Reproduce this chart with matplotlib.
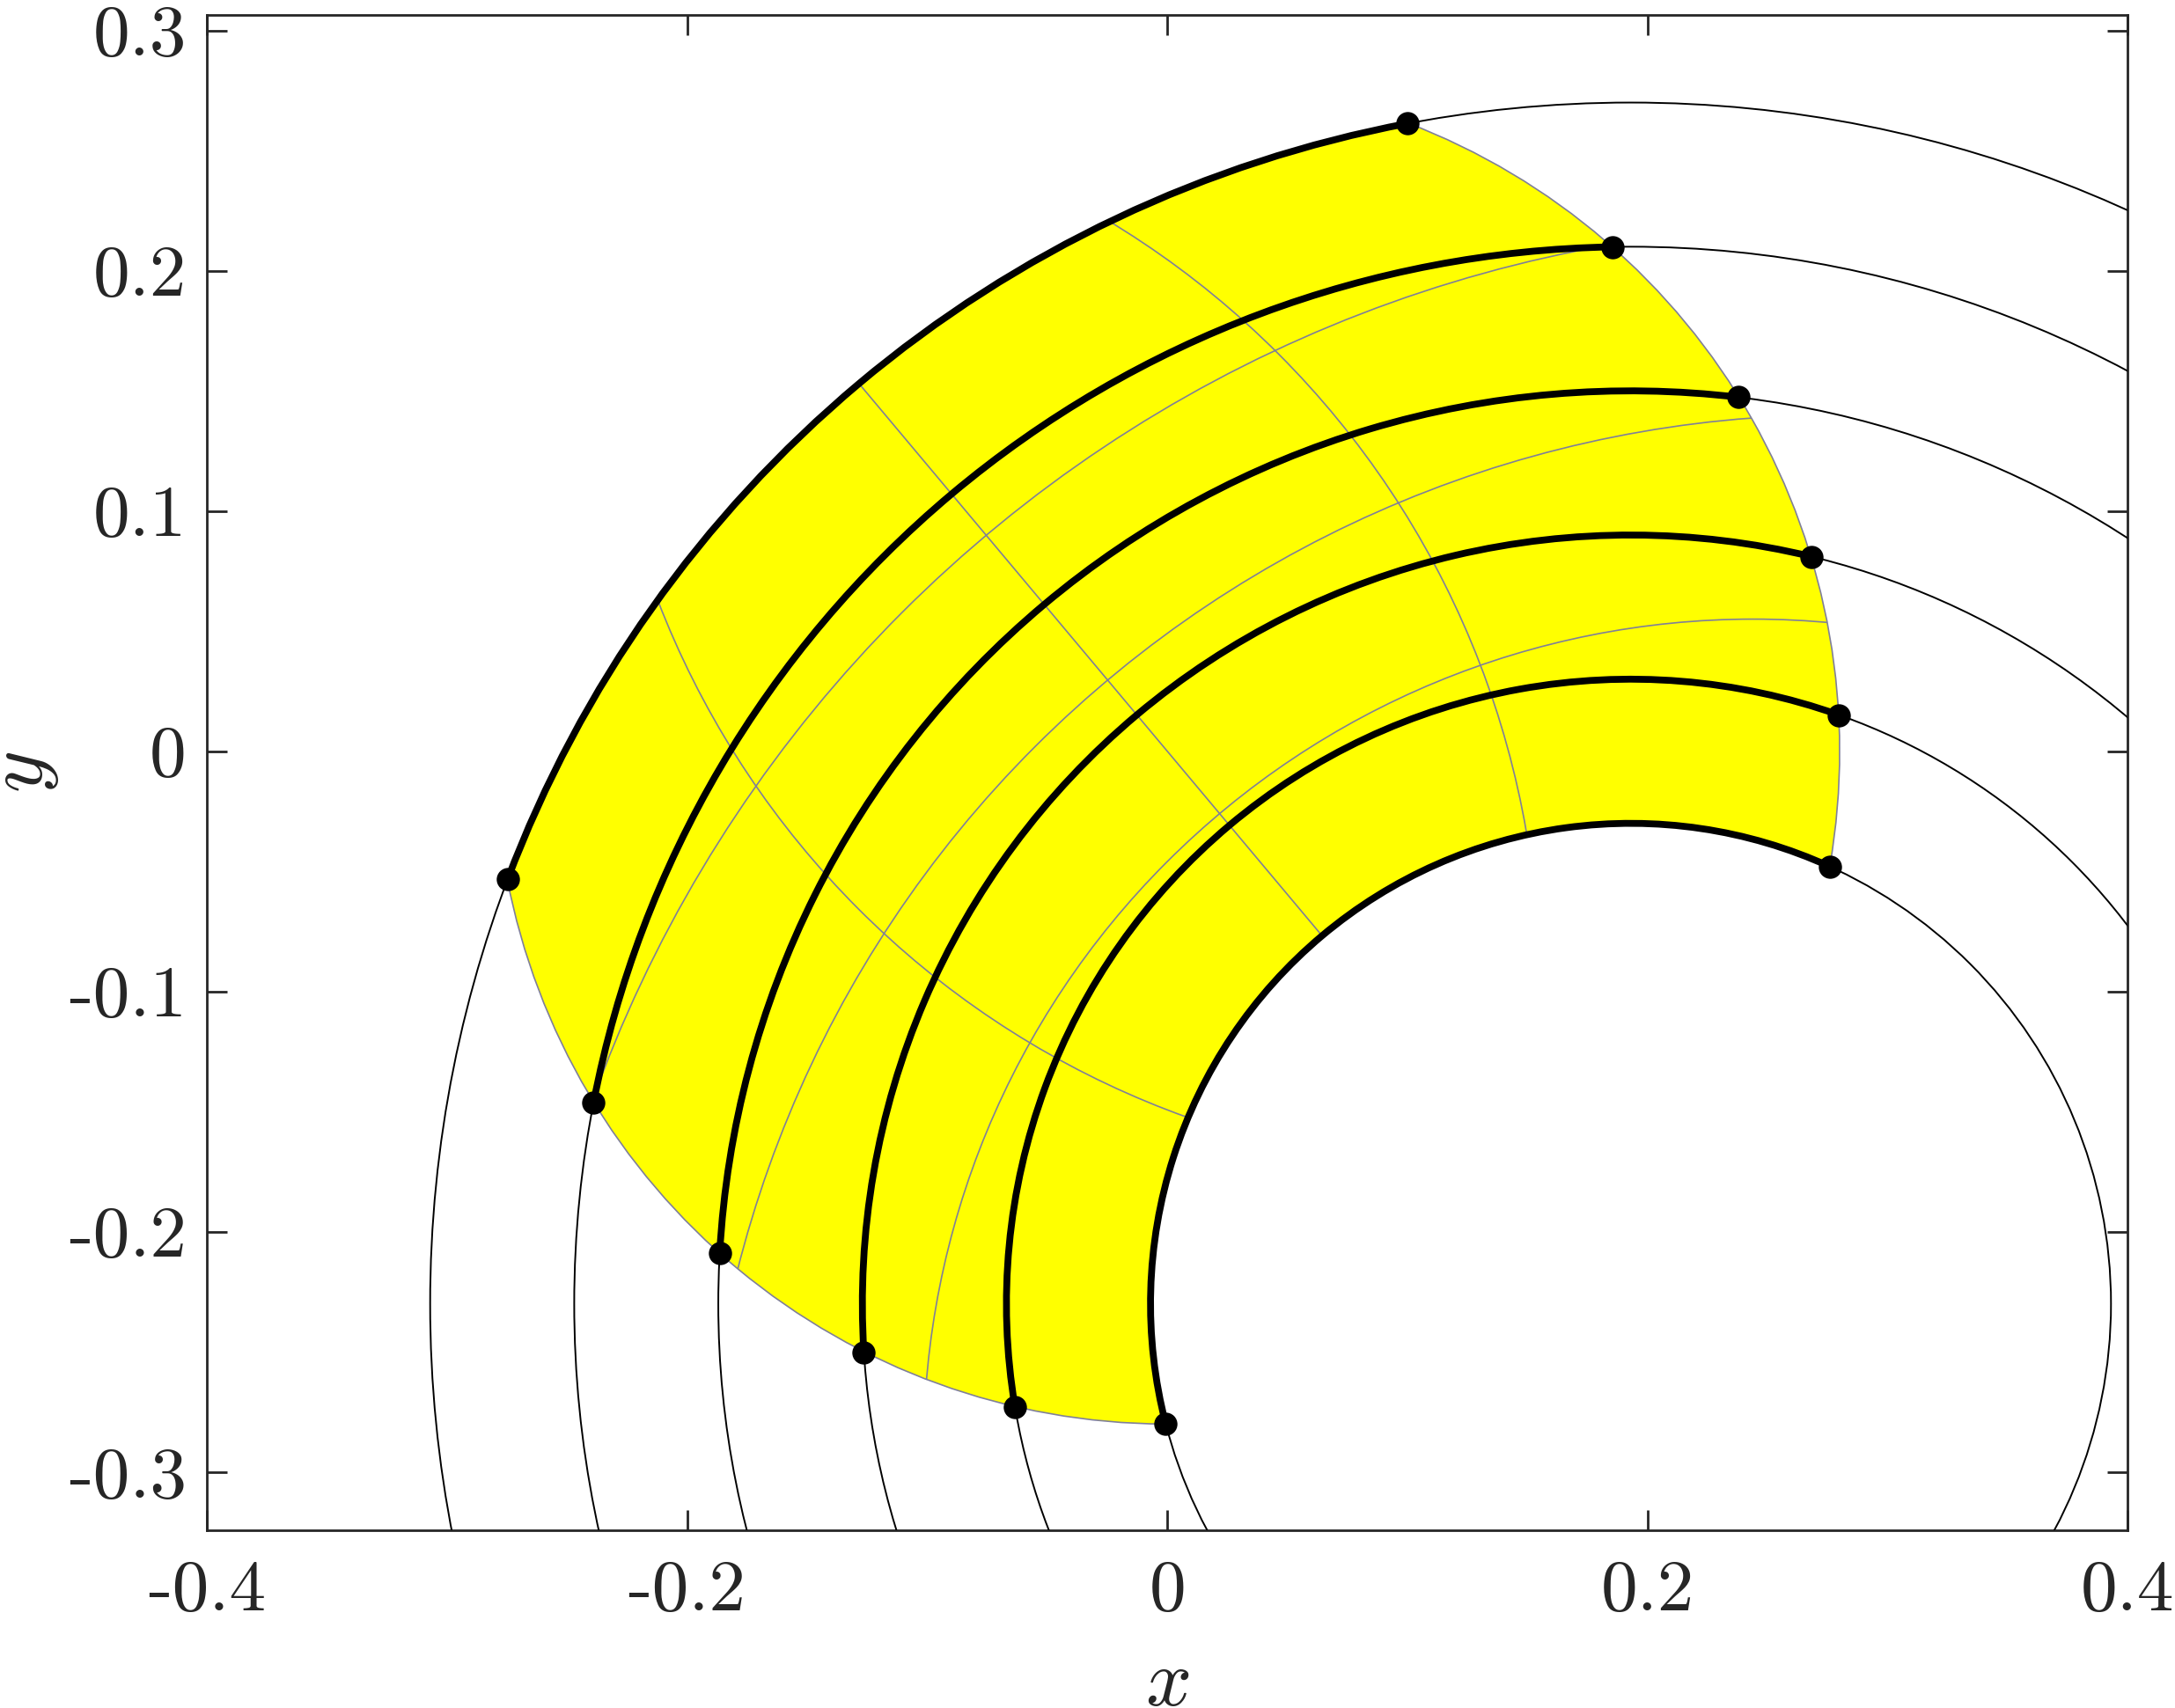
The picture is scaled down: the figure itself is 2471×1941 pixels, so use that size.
import numpy as np
import matplotlib
matplotlib.use('Agg')
import matplotlib.pyplot as plt
from matplotlib.patches import Arc, Circle, PathPatch
from matplotlib.path import Path

# streamline circles (centre, radii) and the disc that cuts out the yellow patch
centre = (0.193, -0.230)
radii = [0.20, 0.26, 0.32, 0.38, 0.44, 0.50]
theta_right = [65.5, 70.5, 76.4, 83.2, 91.0, 100.7]      # deg about centre
theta_left = [194.5, 189.5, 183.6, 176.8, 169.0, 159.3]

disc_centre = (0.0, 0.0)
disc_radius = 0.28
disc_theta_left = [190.9, 269.8]     # deg about disc centre
disc_theta_right = [-9.8, 69.1]

# thin grey grid inside the patch: circle pieces and one straight ray
grid_cx = [0.279, 0.2785, 0.244, 0.133, -0.216]
grid_cy = [-0.332, -0.332, -0.2905, 0.196, -0.097]
grid_r = [0.551, 0.472, 0.3455, 0.370, 0.371]
grid_ray_theta = [130.0]

xticks = [-0.4, -0.2, 0, 0.2, 0.4]
xticklabels = ['-0.4', '-0.2', '0', '0.2', '0.4']
yticks = [-0.3, -0.2, -0.1, 0, 0.1, 0.2, 0.3]
yticklabels = ['-0.3', '-0.2', '-0.1', '0', '0.1', '0.2', '0.3']

plt.rcParams['font.family'] = 'serif'
plt.rcParams['font.serif'] = ['cmr10']
plt.rcParams['mathtext.fontset'] = 'cm'
plt.rcParams['axes.unicode_minus'] = False

grey = (0.5, 0.5, 0.6)
dark = '#262626'


def arc_piece(c, r, t1, t2, reverse=False):
    p = Path.arc(t1, t2)
    v = p.vertices * r + np.array(c)
    codes = p.codes.copy()
    if reverse:
        v = v[::-1]
    return v, codes


def region_path():
    pieces = [
        arc_piece(centre, radii[-1], theta_right[-1], theta_left[-1]),
        arc_piece(disc_centre, disc_radius, disc_theta_left[0], disc_theta_left[1]),
        arc_piece(centre, radii[0], theta_right[0], theta_left[0], reverse=True),
        arc_piece(disc_centre, disc_radius, disc_theta_right[0], disc_theta_right[1]),
    ]
    verts, codes = [], []
    for i, (v, c) in enumerate(pieces):
        if i > 0:
            c[0] = Path.LINETO
        verts.append(v)
        codes.append(c)
    verts.append(verts[0][:1])
    codes.append(np.array([Path.CLOSEPOLY]))
    return Path(np.concatenate(verts), np.concatenate(codes))


fig = plt.figure(figsize=(12.355, 9.705), dpi=200)
ax = fig.add_axes([0.0951, 0.1041, 0.8832, 0.8872])

patch = PathPatch(region_path(), facecolor=(1, 1, 0), edgecolor=grey,
                  lw=0.6, zorder=1)
ax.add_patch(patch)

for cx, cy, r in zip(grid_cx, grid_cy, grid_r):
    g = Circle((cx, cy), r, fill=False, edgecolor=grey, lw=0.6, zorder=2)
    ax.add_patch(g)
    g.set_clip_path(patch)
for t in grid_ray_theta:
    t = np.deg2rad(t)
    ln, = ax.plot([centre[0], centre[0] + 0.6 * np.cos(t)],
                  [centre[1], centre[1] + 0.6 * np.sin(t)],
                  color=grey, lw=0.6, zorder=2)
    ln.set_clip_path(patch)

for r in radii:
    ax.add_patch(Circle(centre, r, fill=False, edgecolor='k', lw=0.7, zorder=3))

for r, t1, t2 in zip(radii, theta_right, theta_left):
    ax.add_patch(Arc(centre, 2 * r, 2 * r, theta1=t1, theta2=t2,
                     color='k', lw=2.8, zorder=4))

r = np.array(radii)
for th in (theta_left, theta_right):
    th = np.deg2rad(th)
    ax.plot(centre[0] + r * np.cos(th), centre[1] + r * np.sin(th), 'o',
            color='k', ms=8.5, zorder=5)

ax.set_xlim(-0.4, 0.4)
ax.set_ylim(-0.3242, 0.3065)
ax.set_xticks(xticks)
ax.set_xticklabels(xticklabels)
ax.set_yticks(yticks)
ax.set_yticklabels(yticklabels)
ax.tick_params(axis='both', direction='in', length=8.3, width=1.0,
               top=True, right=True, labelsize=30, colors=dark)
ax.tick_params(axis='x', pad=12)
ax.tick_params(axis='y', pad=8.3)
for s in ax.spines.values():
    s.set_linewidth(1.0)
    s.set_color(dark)

ax.set_xlabel('$x$', fontsize=33, color=dark, labelpad=10.5)
ax.set_ylabel('$y$', fontsize=33, color=dark, labelpad=3)

fig.savefig('out.png', dpi=200)
